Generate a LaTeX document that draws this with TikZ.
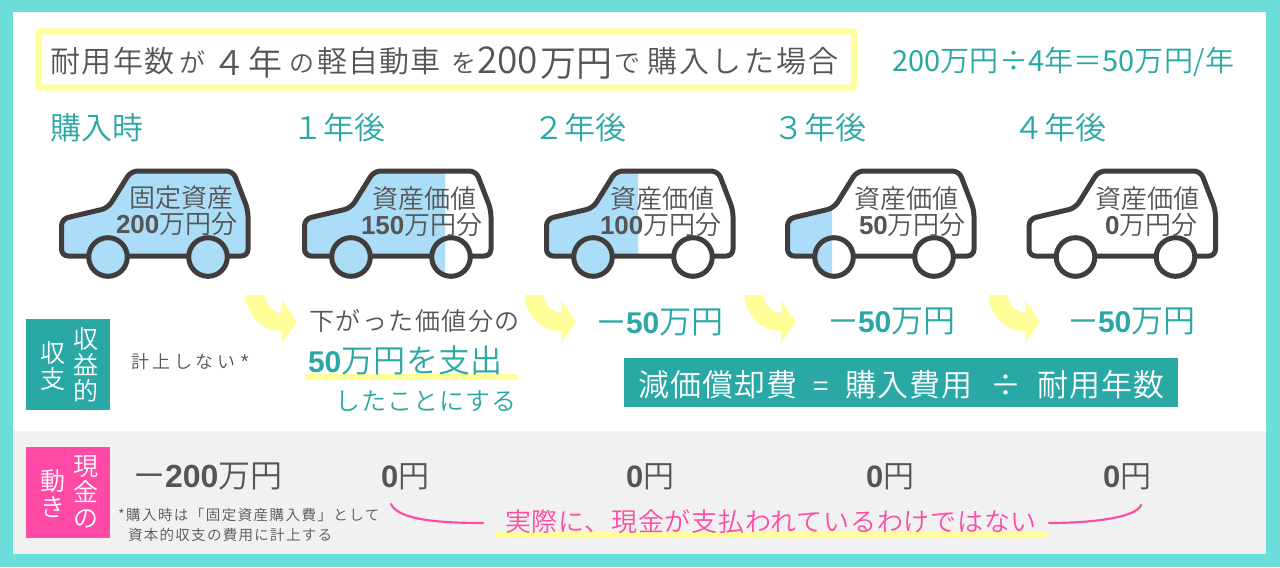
\documentclass[tikz,border=0pt]{standalone}
\usepackage{fontspec}
\setmainfont{Noto Sans CJK JP DemiLight}
\newfontfamily\lat{Liberation Sans}
\newfontfamily\jpd{Noto Sans CJK JP}
\definecolor{bgteal}{HTML}{6BDED9}
\definecolor{dteal}{HTML}{29A8A5}
\definecolor{ylw}{HTML}{FFFE99}
\definecolor{pnk}{HTML}{FF4BA5}
\definecolor{tgray}{HTML}{555555}
\definecolor{rowgray}{HTML}{F1F1F1}
\definecolor{carline}{HTML}{403D3C}
\definecolor{carblue}{HTML}{ABDDF8}
\newcommand\sz[1]{\fontsize{\fpeval{#1*0.75}}{\fpeval{#1*0.78}}\selectfont}
\newcommand\ls[1]{\addfontfeature{LetterSpace=#1}}
\newcommand\bd[1]{{\lat\bfseries #1}}
\newcommand\md[1]{{\jpd #1}}
\newcommand\carbody{[rounded corners=5pt] (90,256) -- (61.5,256) -- (61.5,219) -- (108,208) -- (131,171) -- (233,171) -- (248,210) -- (248,256) -- cycle}
\newcommand\carwheels{(108,257) circle[radius=19.3] (208,257) circle[radius=19.3]}
\newcommand\drawcar[2]{%
 \begin{scope}[xshift=#1*0.75pt]
  \fill[white] \carbody;
  \begin{scope}\clip (0,150) rectangle (#2,300); \fill[carblue] \carbody; \end{scope}
  \draw[carstroke] \carbody;
  \fill[white] \carwheels;
  \begin{scope}\clip (0,150) rectangle (#2,300); \fill[carblue] \carwheels; \end{scope}
  \draw[carstroke] \carwheels;
 \end{scope}}
\newcommand\yarrow[1]{\fill[ylw,xshift=#1*0.75pt] (0,295) .. controls (3,318) and (18,331) .. (37,331) -- (37,343) -- (52,322) -- (37,300) -- (37,313) .. controls (28,313) and (21,305) .. (19,295) -- cycle;}
\tikzset{
 carstroke/.style={draw=carline,line width=3.75pt,line join=round},
 txt/.style={inner sep=0pt,outer sep=0pt,anchor=base west,text=tgray},
 tl/.style={txt,text=dteal},
 wh/.style={txt,text=white},
 pk/.style={txt,text=pnk},
 stack/.style={inner sep=0pt,text=white,align=center,anchor=center,font=\sz{25}},
 pkline/.style={draw=pnk,line width=1.6pt,line cap=round},
}
\begin{document}
\begin{tikzpicture}[x=0.75pt,y=-0.75pt]
\useasboundingbox (0,0) rectangle (1280,567);
\fill[bgteal] (0,0) rectangle (1280,567);
\fill[white] (13,12) rectangle (1266,554);
\fill[rowgray] (13,431) rectangle (1266,554);
% title
\draw[draw=ylw,fill=white,line width=4.5pt,rounded corners=1pt] (38.5,31.5) rectangle (854,87.5);
\node[txt] (t1) at (50,73) {\sz{30}\ls{5}耐用年数};
\node[txt] (t2) at (179,73) {\sz{26}が};
\node[txt] (t3) at (212,75) {\sz{34}４};
\node[txt] (t4) at (248,75) {\sz{34}年};
\node[txt] (t5) at (289,73) {\sz{25}の};
\node[txt] (t6) at (317,73) {\sz{30}\ls{4}軽自動車};
\node[txt] (t7) at (451,73) {\sz{25}を};
\node[txt] (t8) at (477,74) {\sz{37}200};
\node[txt] (t9) at (540,76) {\sz{36}万円};
\node[txt] (t10) at (614,73) {\sz{26}で};
\node[txt] (t11) at (647,73) {\sz{30}\ls{8}購入した場合};
\node[tl] (calc) at (892,72) {\sz{29}\ls{1.5}\md{200}万円÷\md{4}年＝\md{50}万円/年};
% period labels
\node[tl] (p0) at (50,139) {\sz{31}購入時};
\node[tl] (p1) at (292,139) {\sz{31}１年後};
\node[tl] (p2) at (533,139) {\sz{31}２年後};
\node[tl] (p3) at (773,139) {\sz{31}３年後};
\node[tl] (p4) at (1013,139) {\sz{31}４年後};
% cars
\drawcar{0}{300}
\drawcar{243}{202}
\drawcar{485}{153}
\drawcar{726}{106}
\drawcar{967.5}{0}
\node[txt] (c1a) at (129,207) {\sz{26}固定資産};
\node[txt] (c1b) at (116,233) {\sz{26}\bd{200}万円分};
\node[txt] (c2a) at (372,208) {\sz{26}資産価値};
\node[txt] (c2b) at (361,234) {\sz{26}\bd{150}万円分};
\node[txt] (c3a) at (610,208) {\sz{26}資産価値};
\node[txt] (c3b) at (600,234) {\sz{26}\bd{100}万円分};
\node[txt] (c4a) at (854,208) {\sz{26}資産価値};
\node[txt] (c4b) at (859,234) {\sz{26}\bd{50}万円分};
\node[txt] (c5a) at (1095,208) {\sz{26}資産価値};
\node[txt] (c5b) at (1105,234) {\sz{26}\bd{0}万円分};
% arrows
\yarrow{245}
\yarrow{524}
\yarrow{744}
\yarrow{988}
% left boxes
\fill[dteal] (26,319) rectangle (110,410);
\fill[pnk] (26,447) rectangle (110,538);
\node[stack] (s1) at (85.5,365) {収\\益\\的};
\node[stack] (s2) at (53,366) {収\\支};
\node[stack] (s3) at (85.5,492) {現\\金\\の};
\node[stack] (s4) at (53,494) {動\\き};
\node[txt] (no) at (131,368) {\sz{18}\ls{20}計上しない{\lat\sz{20} *}};
% middle
\fill[ylw] (305,374) rectangle (518,380);
\node[txt] (m1) at (309,330) {\sz{25}\ls{6}下がった価値分の};
\node[tl] (m2) at (308,372) {\sz{30}\bd{50}{\sz{32}\ls{1}万円を支出}};
\node[tl] (m3) at (335,410) {\sz{25}\ls{4}したことにする};
\node[tl] (d1) at (596,333) {\sz{30}ー\bd{50}{\sz{32}万円}};
\node[tl] (d2) at (828,332) {\sz{30}ー\bd{50}{\sz{32}万円}};
\node[tl] (d3) at (1068,332) {\sz{30}ー\bd{50}{\sz{32}万円}};
% formula
\fill[dteal] (624,358) rectangle (1178,407);
\node[wh] (f1) at (638,396) {\sz{31}\ls{4}減価償却費};
\node[wh] (f2) at (813,396) {\sz{28}=};
\node[wh] (f3) at (845,396) {\sz{31}\ls{4}購入費用};
\node[wh] (f4) at (990,396) {\sz{31}÷};
\node[wh] (f5) at (1037,396) {\sz{31}\ls{4}耐用年数};
% cash row
\node[txt] (g0) at (133,487) {\sz{32}ー\bd{200}万円};
\node[txt] (g1) at (381,487) {\sz{31}\bd{0}円};
\node[txt] (g2) at (626,487) {\sz{31}\bd{0}円};
\node[txt] (g3) at (866,487) {\sz{31}\bd{0}円};
\node[txt] (g4) at (1103,487) {\sz{31}\bd{0}円};
\node[txt] (n1) at (118,520) {\sz{14.5}\ls{10}*購入時は「固定資産購入費」として};
\node[txt] (n2) at (128,540) {\sz{14.5}\ls{9}資本的収支の費用に計上する};
\fill[ylw] (496,532) rectangle (1048,538);
\node[pk] (real) at (505,531) {\sz{26}\ls{3}実際に、現金が支払われているわけではない};
\coordinate (la) at (391,504);
\coordinate (lb) at (483,523);
\coordinate (ra) at (1141,505);
\coordinate (rb) at (1049,523);
\draw[pkline] (la) .. controls (398,520) and (440,523) .. (lb);
\draw[pkline] (ra) .. controls (1136,518) and (1090,523) .. (rb);
\end{tikzpicture}
\end{document}
